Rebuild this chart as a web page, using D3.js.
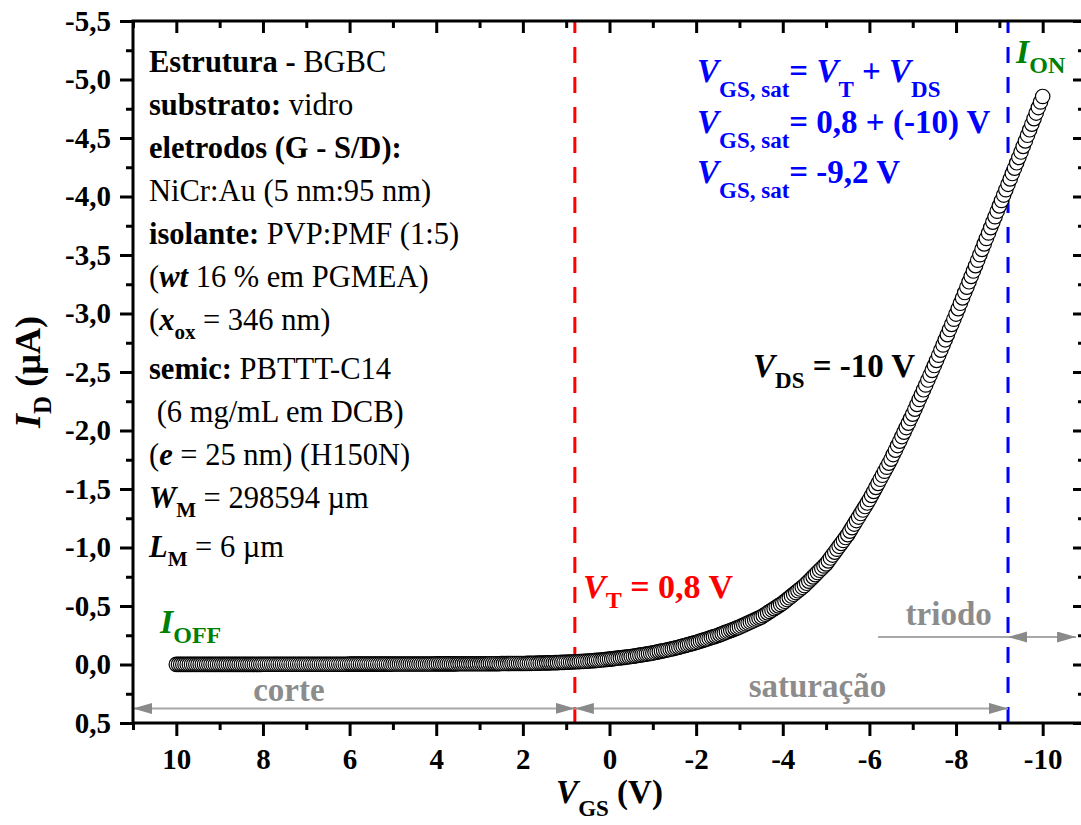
<!DOCTYPE html>
<html>
<head>
<meta charset="utf-8">
<script src="https://cdn.jsdelivr.net/npm/d3@7"></script>
<style>
  html, body { margin: 0; padding: 0; background: #fff; }
  svg { display: block; font-family: "Liberation Serif", "Times New Roman", serif; }
</style>
</head>
<body>
<svg id="chart" width="1081" height="825"></svg>
<script>
// Transfer curve: gate sweep V_GS (V) and drain current I_D (µA), V_DS = -10 V
const vgs = [
  10,9.95,9.9,9.85,9.8,9.75,9.7,9.65,9.6,9.55,9.5,9.45,9.4,9.35,9.3,9.25,9.2,9.15,9.1,9.05,
  9,8.95,8.9,8.85,8.8,8.75,8.7,8.65,8.6,8.55,8.5,8.45,8.4,8.35,8.3,8.25,8.2,8.15,8.1,8.05,
  8,7.95,7.9,7.85,7.8,7.75,7.7,7.65,7.6,7.55,7.5,7.45,7.4,7.35,7.3,7.25,7.2,7.15,7.1,7.05,
  7,6.95,6.9,6.85,6.8,6.75,6.7,6.65,6.6,6.55,6.5,6.45,6.4,6.35,6.3,6.25,6.2,6.15,6.1,6.05,
  6,5.95,5.9,5.85,5.8,5.75,5.7,5.65,5.6,5.55,5.5,5.45,5.4,5.35,5.3,5.25,5.2,5.15,5.1,5.05,
  5,4.95,4.9,4.85,4.8,4.75,4.7,4.65,4.6,4.55,4.5,4.45,4.4,4.35,4.3,4.25,4.2,4.15,4.1,4.05,
  4,3.95,3.9,3.85,3.8,3.75,3.7,3.65,3.6,3.55,3.5,3.45,3.4,3.35,3.3,3.25,3.2,3.15,3.1,3.05,
  3,2.95,2.9,2.85,2.8,2.75,2.7,2.65,2.6,2.55,2.5,2.45,2.4,2.35,2.3,2.25,2.2,2.15,2.1,2.05,
  2,1.95,1.9,1.85,1.8,1.75,1.7,1.65,1.6,1.55,1.5,1.45,1.4,1.35,1.3,1.25,1.2,1.15,1.1,1.05,
  1,0.95,0.9,0.85,0.8,0.75,0.7,0.65,0.6,0.55,0.5,0.45,0.4,0.35,0.3,0.25,0.2,0.15,0.1,0.05,
  0,-0.05,-0.1,-0.15,-0.2,-0.25,-0.3,-0.35,-0.4,-0.45,-0.5,-0.55,-0.6,-0.65,-0.7,-0.75,-0.8,-0.85,-0.9,-0.95,
  -1,-1.05,-1.1,-1.15,-1.2,-1.25,-1.3,-1.35,-1.4,-1.45,-1.5,-1.55,-1.6,-1.65,-1.7,-1.75,-1.8,-1.85,-1.9,-1.95,
  -2,-2.05,-2.1,-2.15,-2.2,-2.25,-2.3,-2.35,-2.4,-2.45,-2.5,-2.55,-2.6,-2.65,-2.7,-2.75,-2.8,-2.85,-2.9,-2.95,
  -3,-3.05,-3.1,-3.15,-3.2,-3.25,-3.3,-3.35,-3.4,-3.45,-3.5,-3.55,-3.6,-3.65,-3.7,-3.75,-3.8,-3.85,-3.9,-3.95,
  -4,-4.05,-4.1,-4.15,-4.2,-4.25,-4.3,-4.35,-4.4,-4.45,-4.5,-4.55,-4.6,-4.65,-4.7,-4.75,-4.8,-4.85,-4.9,-4.95,
  -5,-5.05,-5.1,-5.15,-5.2,-5.25,-5.3,-5.35,-5.4,-5.45,-5.5,-5.55,-5.6,-5.65,-5.7,-5.75,-5.8,-5.85,-5.9,-5.95,
  -6,-6.05,-6.1,-6.15,-6.2,-6.25,-6.3,-6.35,-6.4,-6.45,-6.5,-6.55,-6.6,-6.65,-6.7,-6.75,-6.8,-6.85,-6.9,-6.95,
  -7,-7.05,-7.1,-7.15,-7.2,-7.25,-7.3,-7.35,-7.4,-7.45,-7.5,-7.55,-7.6,-7.65,-7.7,-7.75,-7.8,-7.85,-7.9,-7.95,
  -8,-8.05,-8.1,-8.15,-8.2,-8.25,-8.3,-8.35,-8.4,-8.45,-8.5,-8.55,-8.6,-8.65,-8.7,-8.75,-8.8,-8.85,-8.9,-8.95,
  -9,-9.05,-9.1,-9.15,-9.2,-9.25,-9.3,-9.35,-9.4,-9.45,-9.5,-9.55,-9.6,-9.65,-9.7,-9.75,-9.8,-9.85,-9.9,-9.95,
  -10
];
const idMicroA = [
  -0.001,-0.001,-0.001,-0.001,-0.001,-0.001,-0.001,-0.001,-0.001,-0.001,-0.001,-0.001,-0.001,-0.001,-0.001,-0.001,-0.001,-0.001,-0.001,-0.001,
  -0.001,-0.001,-0.001,-0.001,-0.001,-0.001,-0.001,-0.001,-0.001,-0.001,-0.001,-0.001,-0.001,-0.001,-0.001,-0.001,-0.001,-0.001,-0.001,-0.001,
  -0.002,-0.002,-0.002,-0.002,-0.002,-0.002,-0.002,-0.002,-0.002,-0.002,-0.002,-0.002,-0.002,-0.002,-0.002,-0.002,-0.002,-0.002,-0.002,-0.002,
  -0.002,-0.002,-0.002,-0.002,-0.002,-0.002,-0.002,-0.002,-0.002,-0.002,-0.002,-0.002,-0.002,-0.002,-0.002,-0.002,-0.002,-0.002,-0.002,-0.002,
  -0.003,-0.003,-0.003,-0.003,-0.003,-0.003,-0.003,-0.003,-0.003,-0.003,-0.003,-0.003,-0.003,-0.003,-0.003,-0.003,-0.003,-0.003,-0.003,-0.003,
  -0.004,-0.004,-0.004,-0.004,-0.004,-0.004,-0.004,-0.004,-0.004,-0.004,-0.004,-0.004,-0.004,-0.004,-0.004,-0.004,-0.004,-0.004,-0.004,-0.004,
  -0.005,-0.005,-0.005,-0.005,-0.005,-0.005,-0.005,-0.005,-0.005,-0.005,-0.006,-0.006,-0.006,-0.006,-0.006,-0.006,-0.006,-0.006,-0.006,-0.006,
  -0.006,-0.006,-0.006,-0.006,-0.006,-0.007,-0.007,-0.007,-0.007,-0.007,-0.008,-0.008,-0.008,-0.008,-0.008,-0.009,-0.009,-0.009,-0.009,-0.009,
  -0.009,-0.009,-0.010,-0.010,-0.010,-0.011,-0.011,-0.012,-0.012,-0.013,-0.013,-0.014,-0.014,-0.015,-0.015,-0.016,-0.016,-0.017,-0.018,-0.018,
  -0.019,-0.020,-0.021,-0.022,-0.023,-0.024,-0.025,-0.026,-0.027,-0.028,-0.029,-0.030,-0.032,-0.033,-0.035,-0.036,-0.038,-0.040,-0.042,-0.044,
  -0.046,-0.048,-0.050,-0.053,-0.055,-0.057,-0.059,-0.061,-0.064,-0.066,-0.068,-0.071,-0.074,-0.077,-0.080,-0.083,-0.086,-0.089,-0.092,-0.095,
  -0.098,-0.102,-0.106,-0.110,-0.114,-0.118,-0.122,-0.126,-0.130,-0.134,-0.138,-0.143,-0.148,-0.153,-0.158,-0.163,-0.168,-0.173,-0.178,-0.183,
  -0.188,-0.194,-0.200,-0.206,-0.212,-0.218,-0.224,-0.230,-0.236,-0.242,-0.248,-0.255,-0.262,-0.270,-0.277,-0.284,-0.291,-0.298,-0.306,-0.313,
  -0.320,-0.329,-0.337,-0.346,-0.354,-0.363,-0.371,-0.380,-0.388,-0.397,-0.405,-0.417,-0.429,-0.441,-0.453,-0.465,-0.477,-0.489,-0.501,-0.513,
  -0.525,-0.540,-0.555,-0.570,-0.585,-0.600,-0.615,-0.630,-0.645,-0.660,-0.675,-0.694,-0.712,-0.731,-0.749,-0.768,-0.786,-0.805,-0.823,-0.842,
  -0.860,-0.885,-0.910,-0.935,-0.960,-0.985,-1.010,-1.035,-1.060,-1.085,-1.110,-1.140,-1.170,-1.200,-1.230,-1.260,-1.290,-1.320,-1.350,-1.380,
  -1.410,-1.445,-1.479,-1.514,-1.548,-1.583,-1.617,-1.652,-1.686,-1.721,-1.755,-1.794,-1.832,-1.871,-1.909,-1.948,-1.986,-2.025,-2.063,-2.102,
  -2.140,-2.182,-2.223,-2.265,-2.306,-2.348,-2.389,-2.431,-2.472,-2.514,-2.555,-2.599,-2.643,-2.687,-2.731,-2.775,-2.819,-2.863,-2.907,-2.951,
  -2.995,-3.041,-3.087,-3.133,-3.179,-3.225,-3.271,-3.317,-3.363,-3.409,-3.455,-3.502,-3.548,-3.595,-3.641,-3.688,-3.734,-3.781,-3.827,-3.874,
  -3.920,-3.966,-4.012,-4.058,-4.104,-4.150,-4.196,-4.242,-4.288,-4.334,-4.380,-4.428,-4.475,-4.523,-4.570,-4.618,-4.665,-4.713,-4.760,-4.808,
  -4.855
];

// Axis ticks and their labels (decimal comma)
const xTicks = [10, 8, 6, 4, 2, 0, -2, -4, -6, -8, -10];
const xTickLabels = ["10", "8", "6", "4", "2", "0", "-2", "-4", "-6", "-8", "-10"];
const xMinorTicks = [11, 9, 7, 5, 3, 1, -1, -3, -5, -7, -9, -11];
const yTicks = [0.5, 0, -0.5, -1, -1.5, -2, -2.5, -3, -3.5, -4, -4.5, -5, -5.5];
const yTickLabels = ["0,5", "0,0", "-0,5", "-1,0", "-1,5", "-2,0", "-2,5", "-3,0", "-3,5", "-4,0", "-4,5", "-5,0", "-5,5"];
const yMinorTicks = [0.25, -0.25, -0.75, -1.25, -1.75, -2.25, -2.75, -3.25, -3.75, -4.25, -4.75, -5.25];

// Characteristic voltages (V)
const thresholdVoltage = 0.8;     // V_T
const saturationVoltage = -9.2;   // V_GS,sat = V_T + V_DS

// Device description, one entry per line: [text, flags] with b=bold, i=italic, s=subscript
const deviceInfo = [
  [["Estrutura - ", "b"], ["BGBC", ""]],
  [["substrato: ", "b"], ["vidro", ""]],
  [["eletrodos (G - S/D):", "b"]],
  [["NiCr:Au (5 nm:95 nm)", ""]],
  [["isolante: ", "b"], ["PVP:PMF (1:5)", ""]],
  [["(", ""], ["wt", "bi"], [" 16 % em PGMEA)", ""]],
  [["(", ""], ["x", "bi"], ["ox", "bs"], [" = 346 nm)", ""]],
  [["semic: ", "b"], ["PBTTT-C14", ""]],
  [[" (6 mg/mL em DCB)", ""]],
  [["(", ""], ["e", "bi"], [" = 25 nm) (H150N)", ""]],
  [["W", "bi"], ["M", "bs"], [" = 298594 \u00b5m", ""]],
  [["L", "bi"], ["M", "bs"], [" = 6 \u00b5m", ""]]
];
const saturationNotes = [
  [["V", "bi"], ["GS, sat", "bs"], ["= ", "b"], ["V", "bi"], ["T", "bs"], [" + ", "b"], ["V", "bi"], ["DS", "bs"]],
  [["V", "bi"], ["GS, sat", "bs"], ["= 0,8 + (-10) V", "b"]],
  [["V", "bi"], ["GS, sat", "bs"], ["= -9,2 V", "b"]]
];

const svg = d3.select("#chart");
const plot = { left: 133, right: 1086, top: 21, bottom: 723 };

const x = d3.scaleLinear().domain([11, -11]).range([plot.left, plot.right]);
const y = d3.scaleLinear().domain([0.5, -5.5]).range([plot.bottom, plot.top]);

const GRAY_TEXT = "#8c8c8c";
const GRAY_LINE = "#a8a8a8";
const GRAY_HEAD = "#8a8a8a";

// Mixed-style text built from [string, flags] segments
function richText(parent, px, py, segs, size, fill, anchor, subShift) {
  const t = parent.append("text")
    .attr("x", px).attr("y", py)
    .attr("font-size", size)
    .attr("fill", fill)
    .attr("text-anchor", anchor || "start")
    .style("white-space", "pre");
  const drop = subShift != null ? subShift : Math.round(size * 0.3);
  let shift = 0;
  segs.forEach(([str, f]) => {
    const sub = f.includes("s");
    const target = sub ? drop : 0;
    const ts = t.append("tspan").text(str)
      .attr("font-weight", f.includes("b") ? "bold" : "normal")
      .attr("font-style", f.includes("i") ? "italic" : "normal");
    if (sub) ts.attr("font-size", Math.round(size * 0.7));
    if (target !== shift) { ts.attr("dy", target - shift); shift = target; }
  });
  return t;
}

// Arrowhead marker
svg.append("defs").append("marker")
  .attr("id", "head")
  .attr("markerUnits", "userSpaceOnUse")
  .attr("markerWidth", 20).attr("markerHeight", 12)
  .attr("refX", 19).attr("refY", 5.5)
  .attr("orient", "auto-start-reverse")
  .append("path").attr("d", "M0,0 L19,5.5 L0,11 Z").attr("fill", GRAY_HEAD);

// Region boundaries (dashed verticals), drawn upward from the x axis
const vlines = [
  { v: thresholdVoltage, color: "#ff0000" },
  { v: saturationVoltage, color: "#0000ff" }
];
svg.append("g").selectAll("line").data(vlines).join("line")
  .attr("x1", d => x(d.v)).attr("x2", d => x(d.v))
  .attr("y1", plot.bottom).attr("y2", plot.top)
  .attr("stroke", d => d.color)
  .attr("stroke-width", 3)
  .attr("stroke-dasharray", "16,14");

// Operating-region arrows
const arrowY = y(0.375);
const triodeY = y(-0.235);
const arrows = [
  { a: 11, b: thresholdVoltage, yy: arrowY, heads: true },
  { a: thresholdVoltage, b: saturationVoltage, yy: arrowY, heads: true },
  { a: -6.2, b: saturationVoltage, yy: triodeY, heads: false },
  { a: saturationVoltage, b: -10.77, yy: triodeY, heads: true }
];
svg.append("g").selectAll("line").data(arrows).join("line")
  .attr("x1", d => x(d.a)).attr("x2", d => x(d.b))
  .attr("y1", d => d.yy).attr("y2", d => d.yy)
  .attr("stroke", GRAY_LINE).attr("stroke-width", 2)
  .attr("marker-start", d => d.heads ? "url(#head)" : null)
  .attr("marker-end", d => d.heads ? "url(#head)" : null);

const regionLabels = [
  { text: "corte", v: 7.4, yy: 701 },
  { text: "satura\u00e7\u00e3o", v: -4.8, yy: 697 },
  { text: "triodo", v: -7.83, yy: 625 }
];
svg.append("g").selectAll("text").data(regionLabels).join("text")
  .attr("x", d => x(d.v)).attr("y", d => d.yy)
  .attr("text-anchor", "middle")
  .attr("font-size", 33).attr("font-weight", "bold")
  .attr("fill", GRAY_TEXT)
  .text(d => d.text);

// Measured points: open circles
const points = vgs.map((v, i) => ({ v, id: idMicroA[i] }));
svg.append("g").selectAll("circle").data(points).join("circle")
  .attr("cx", d => x(d.v)).attr("cy", d => y(d.id))
  .attr("r", 7.2)
  .attr("fill", "#fff")
  .attr("stroke", "#000")
  .attr("stroke-width", 1.2);

// Axes
const tickFont = g => g.selectAll("text")
  .attr("font-family", "'Liberation Serif', 'Times New Roman', serif")
  .attr("font-size", 29).attr("font-weight", "bold").attr("fill", "#000");
const tickStroke = g => { g.select(".domain").remove(); g.selectAll("line").attr("stroke", "#000").attr("stroke-width", 3); };

svg.append("g").attr("transform", `translate(0,${plot.bottom})`)
  .call(d3.axisBottom(x).tickValues(xTicks).tickFormat((d, i) => xTickLabels[i]).tickSize(13).tickPadding(12))
  .call(tickStroke).call(tickFont);
svg.append("g").attr("transform", `translate(0,${plot.bottom})`)
  .call(d3.axisBottom(x).tickValues(xMinorTicks).tickFormat("").tickSize(7))
  .call(tickStroke);
svg.append("g").attr("transform", `translate(0,${plot.top})`)
  .call(d3.axisTop(x).tickValues(xTicks).tickFormat("").tickSize(-12))
  .call(tickStroke);
svg.append("g").attr("transform", `translate(0,${plot.top})`)
  .call(d3.axisTop(x).tickValues(xMinorTicks).tickFormat("").tickSize(-7))
  .call(tickStroke);

svg.append("g").attr("transform", `translate(${plot.left},0)`)
  .call(d3.axisLeft(y).tickValues(yTicks).tickFormat((d, i) => yTickLabels[i]).tickSize(13).tickPadding(9))
  .call(tickStroke).call(tickFont);
svg.append("g").attr("transform", `translate(${plot.left},0)`)
  .call(d3.axisLeft(y).tickValues(yMinorTicks).tickFormat("").tickSize(7))
  .call(tickStroke);
svg.append("g").attr("transform", `translate(${plot.right},0)`)
  .call(d3.axisRight(y).tickValues(yTicks).tickFormat("").tickSize(-13))
  .call(tickStroke);
svg.append("g").attr("transform", `translate(${plot.right},0)`)
  .call(d3.axisRight(y).tickValues(yMinorTicks).tickFormat("").tickSize(-8))
  .call(tickStroke);

// Frame
svg.append("rect")
  .attr("x", plot.left).attr("y", plot.top)
  .attr("width", plot.right - plot.left).attr("height", plot.bottom - plot.top)
  .attr("fill", "none").attr("stroke", "#000").attr("stroke-width", 3);

// Axis titles
richText(svg, (plot.left + plot.right) / 2, 803,
  [["V", "bi"], ["GS", "bs"], [" (V)", "b"]], 33, "#000", "middle", 13);
richText(svg, 0, 0,
  [["I", "bi"], ["D", "bs"], [" (\u00b5A)", "b"]], 36, "#000", "middle", 11)
  .attr("transform", "translate(40,372) rotate(-90)");

// Device description block
const infoG = svg.append("g");
let extra = 0;
deviceInfo.forEach((segs, i) => {
  richText(infoG, 149, 72 + 43 * i + extra, segs, 30.5, "#000", "start", 9);
  if (segs.some(s => s[1].includes("s"))) extra += 6;
});

// Saturation voltage notes
saturationNotes.forEach((segs, i) => {
  richText(svg, 697, 82 + 50.5 * i, segs, 33, "#0000ff", "start", 15);
});

// Point annotations
richText(svg, 753, 377, [["V", "bi"], ["DS", "bs"], [" = -10 V", "b"]], 33, "#000", "start", 11);
richText(svg, 583, 598, [["V", "bi"], ["T", "bs"], [" = 0,8 V", "b"]], 34, "#ff0000", "start", 10);
richText(svg, 160, 633, [["I", "bi"], ["OFF", "bs"]], 34, "#008000", "start", 10);
richText(svg, 1016, 63, [["I", "bi"], ["ON", "bs"]], 34, "#008000", "start", 10);
</script>
</body>
</html>
